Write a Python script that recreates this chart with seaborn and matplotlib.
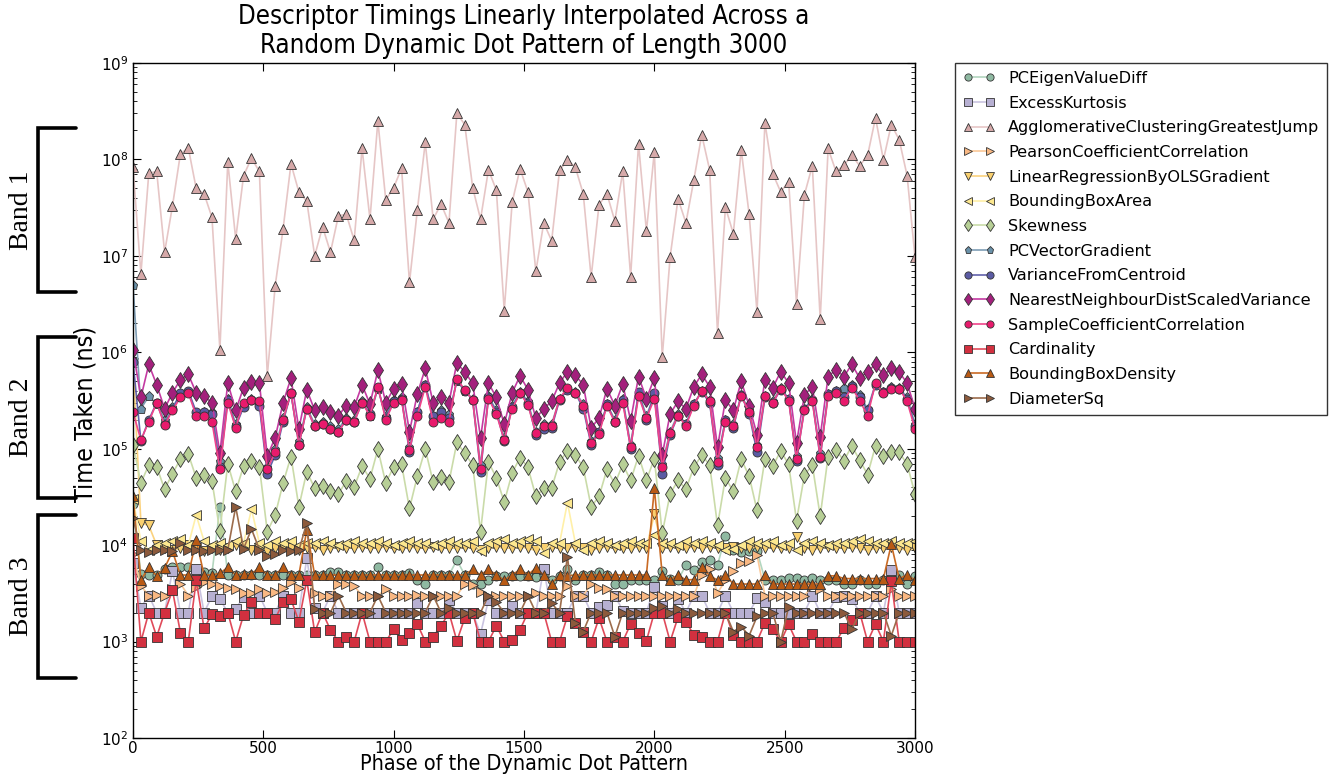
import numpy as np
import matplotlib
matplotlib.use("Agg")
import matplotlib.pyplot as plt
from matplotlib.lines import Line2D
import seaborn as sns

# Sample positions along the dot pattern (100 evenly spaced phases)
phase = np.linspace(0, 3000, 100)

pc_eigen_value_diff = [
    2.7e4, 5000, 4900, 4900, 5600, 5900, 5900, 5900, 5300, 5300,
    5100, 2.5e4, 4900, 4900, 4900, 4900, 4900, 4900, 4900, 4900,
    4900, 4900, 4900, 4900, 4900, 5300, 5300, 4900, 4900, 4900,
    4900, 5900, 4900, 4900, 4900, 5100, 4400, 4000, 4900, 4900,
    4900, 7000, 4900, 4000, 4000, 4350, 4800, 4800, 4800, 4800,
    4800, 4650, 4900, 4350, 4800, 5600, 4350, 4900, 4900, 5300,
    4900, 4000, 4000, 4350, 4350, 4350, 4350, 5400, 4500, 4350,
    6200, 5500, 6700, 7000, 6200, 1.25e4, 9000, 8400, 8700, 8700,
    4400, 4350, 4350, 4600, 4600, 4350, 4600, 4350, 4350, 4350,
    4000, 4000, 4350, 4000, 4000, 4350, 4800, 4900, 4000, 4800]

excess_kurtosis = [
    6500, 2250, 3000, 2000, 2000, 5450, 2000, 2000, 5600, 2000,
    2950, 2770, 2000, 2180, 2900, 2000, 3000, 2000, 2000, 3000,
    2000, 2000, 7300, 2250, 2000, 3000, 2000, 2000, 2000, 2000,
    2000, 2000, 2000, 2000, 2000, 2000, 2540, 2000, 2000, 2000,
    2700, 2000, 2000, 2000, 1200, 2700, 2000, 2000, 2340, 2000,
    2000, 2000, 5700, 2000, 2000, 2000, 3000, 3000, 2000, 2300,
    2400, 3000, 2100, 2000, 2000, 2000, 3700, 2340, 2000, 2770,
    2000, 3000, 3000, 2000, 2000, 3000, 2000, 2000, 2000, 2800,
    2550, 2000, 2000, 2000, 2000, 2000, 3000, 2000, 2000, 2900,
    3000, 2770, 2000, 2000, 2950, 2000, 5500, 2000, 2000, 2000]

agglomerative_jump = [
    8.3e7, 6.5e6, 7.2e7, 7.5e7, 1.09e7, 3.3e7, 1.14e8, 1.32e8, 5.0e7, 4.4e7,
    2.5e7, 1.06e6, 9.4e7, 1.5e7, 6.8e7, 1.03e8, 7.5e7, 5.7e5, 4.9e6, 1.9e7,
    9.0e7, 4.6e7, 3.7e7, 1.0e7, 2.0e7, 1.09e7, 2.6e7, 2.7e7, 1.45e7, 1.3e8,
    2.4e7, 2.5e8, 3.8e7, 5.1e7, 8.1e7, 5.3e6, 3.0e7, 1.5e8, 2.4e7, 3.45e7,
    2.2e7, 3.0e8, 2.3e8, 5.1e7, 2.4e7, 7.8e7, 4.8e7, 2.7e6, 3.6e7, 8.0e7,
    4.6e7, 6.9e6, 2.2e7, 1.43e7, 7.7e7, 9.9e7, 8.3e7, 4.4e7, 6.0e6, 3.4e7,
    4.4e7, 2.3e7, 7.5e7, 6.1e6, 1.45e8, 1.8e7, 1.2e8, 8.9e5, 9.8e6, 3.9e7,
    2.2e7, 6.1e7, 1.8e8, 7.8e7, 1.6e6, 3.2e7, 1.7e7, 1.26e8, 2.7e7, 2.6e6,
    2.4e8, 7.1e7, 4.6e7, 5.9e7, 3.2e6, 4.3e7, 8.6e7, 2.2e6, 1.3e8, 7.5e7,
    8.7e7, 1.1e8, 8.6e7, 1.1e8, 2.7e8, 9.9e7, 2.3e8, 1.6e8, 6.8e7, 9.7e6]

pearson_correlation = [
    8000, 3780, 3000, 3070, 3000, 3470, 4000, 3000, 3700, 4100,
    4000, 3780, 3600, 3470, 3200, 3200, 3470, 3200, 3300, 3600,
    4100, 3600, 4500, 3200, 3000, 2950, 4000, 3950, 3780, 3000,
    3000, 3000, 3470, 3000, 3000, 3000, 3070, 3000, 3000, 3000,
    3000, 3000, 3950, 3850, 3300, 3000, 3000, 3000, 3000, 3000,
    3000, 3200, 3000, 3000, 3000, 3780, 3000, 3000, 3950, 3600,
    3470, 3000, 3000, 3000, 3000, 3000, 3000, 3000, 3000, 3000,
    3000, 3000, 4900, 5600, 3200, 4300, 5400, 6600, 6800, 7900,
    3000, 3000, 3000, 3000, 3000, 3000, 3780, 3470, 3000, 3000,
    3000, 3000, 3000, 3000, 3000, 3000, 3470, 3000, 3000, 3000]

linear_regression_gradient = [
    7.7e5, 1.7e4, 1.6e4, 1.0e4, 9300, 8800, 9300, 1.0e4, 9300, 8600,
    9300, 8800, 9300, 1.0e4, 9600, 8800, 9300, 8600, 9300, 9600,
    9300, 8800, 9300, 9600, 8800, 9300, 9600, 9300, 9300, 9600,
    9300, 9300, 9600, 9300, 9300, 9600, 9300, 9300, 9600, 9300,
    9300, 9300, 9600, 9300, 9000, 9300, 9600, 9300, 9300, 9600,
    9300, 8800, 9300, 9600, 9300, 9300, 9600, 9300, 8800, 9300,
    9600, 9300, 9300, 9300, 9600, 9300, 2.1e4, 9300, 9600, 9300,
    9300, 9600, 9300, 9600, 9300, 9300, 9600, 9300, 9300, 9600,
    9300, 9600, 9300, 9300, 1.22e4, 9300, 9000, 9300, 9600, 9300,
    9300, 9600, 9300, 8800, 9300, 9300, 9600, 9300, 8800, 9300]

bounding_box_area = [
    3.0e4, 1.1e4, 8900, 1.0e4, 1.05e4, 1.1e4, 1.15e4, 1.0e4, 2.05e4, 1.1e4,
    1.0e4, 1.05e4, 1.0e4, 1.1e4, 1.05e4, 2.35e4, 1.05e4, 1.0e4, 1.1e4, 1.05e4,
    1.1e4, 1.0e4, 1.05e4, 1.05e4, 1.1e4, 1.05e4, 1.0e4, 1.05e4, 1.1e4, 1.05e4,
    1.05e4, 1.1e4, 1.05e4, 1.0e4, 1.05e4, 1.1e4, 1.05e4, 1.05e4, 1.0e4, 1.05e4,
    1.1e4, 1.05e4, 1.05e4, 1.1e4, 8700, 1.05e4, 1.1e4, 1.15e4, 1.05e4, 1.1e4,
    1.15e4, 1.1e4, 8300, 1.05e4, 1.05e4, 2.76e4, 1.05e4, 9000, 1.05e4, 1.1e4,
    1.05e4, 1.0e4, 1.05e4, 1.1e4, 1.05e4, 1.05e4, 1.27e4, 1.05e4, 1.05e4, 1.0e4,
    1.1e4, 1.05e4, 1.1e4, 1.05e4, 1.0e4, 8900, 9200, 1.0e4, 1.1e4, 1.05e4,
    1.05e4, 1.1e4, 1.0e4, 1.05e4, 9000, 1.05e4, 1.1e4, 1.05e4, 1.0e4, 1.05e4,
    1.05e4, 1.1e4, 1.15e4, 1.1e4, 1.05e4, 1.05e4, 1.1e4, 1.05e4, 1.05e4, 1.1e4]

skewness = [
    1.1e5, 4.4e4, 6.8e4, 6.5e4, 3.8e4, 5.5e4, 7.8e4, 8.8e4, 5.0e4, 5.3e4,
    4.6e4, 1.4e4, 7.0e4, 3.6e4, 6.6e4, 7.5e4, 6.5e4, 1.38e4, 2.05e4, 4.4e4,
    8.3e4, 2.5e4, 5.8e4, 3.9e4, 4.1e4, 3.6e4, 3.4e4, 4.6e4, 4.0e4, 6.6e4,
    4.9e4, 9.9e4, 4.4e4, 6.5e4, 6.9e4, 2.4e4, 5.2e4, 9.9e4, 4.5e4, 5.1e4,
    4.5e4, 1.16e5, 9.0e4, 6.8e4, 1.38e4, 7.3e4, 5.0e4, 2.8e4, 5.6e4, 8.1e4,
    6.4e4, 3.2e4, 3.9e4, 3.9e4, 7.3e4, 9.5e4, 8.6e4, 6.4e4, 2.5e4, 3.2e4,
    6.1e4, 4.3e4, 6.9e4, 4.7e4, 8.4e4, 4.7e4, 7.9e4, 1.33e4, 3.4e4, 4.7e4,
    3.8e4, 6.4e4, 8.6e4, 6.8e4, 1.6e4, 5.0e4, 3.6e4, 7.8e4, 5.2e4, 2.3e4,
    7.8e4, 6.6e4, 9.5e4, 6.9e4, 1.8e4, 5.3e4, 6.8e4, 2.0e4, 8.3e4, 9.7e4,
    7.5e4, 1.07e5, 7.6e4, 5.4e4, 1.07e5, 8.4e4, 9.2e4, 9.2e4, 6.9e4, 3.4e4]

pc_vector_gradient = [
    5.0e6, 2.6e5, 3.5e5, 2.9e5, 2.0e5, 2.7e5, 3.5e5, 3.9e5, 2.3e5, 2.4e5,
    2.4e5, 7.5e4, 3.3e5, 1.8e5, 2.8e5, 3.3e5, 2.9e5, 6.5e4, 1.0e5, 2.1e5,
    3.7e5, 1.2e5, 2.7e5, 1.8e5, 1.9e5, 1.7e5, 1.6e5, 2.1e5, 2.0e5, 3.1e5,
    2.2e5, 4.2e5, 2.2e5, 3.2e5, 3.4e5, 1.05e5, 2.4e5, 4.6e5, 2.2e5, 2.5e5,
    2.3e5, 5.0e5, 4.0e5, 3.3e5, 6.8e4, 3.5e5, 2.5e5, 1.3e5, 2.8e5, 3.9e5,
    3.1e5, 1.5e5, 1.8e5, 1.8e5, 3.3e5, 4.2e5, 3.9e5, 2.9e5, 1.2e5, 1.5e5,
    2.9e5, 2.0e5, 3.3e5, 1.1e5, 3.8e5, 2.2e5, 3.6e5, 7.0e4, 1.5e5, 2.3e5,
    1.8e5, 2.9e5, 4.0e5, 3.2e5, 8.0e4, 2.0e5, 1.8e5, 3.6e5, 2.5e5, 1.1e5,
    3.5e5, 3.1e5, 4.3e5, 3.3e5, 8.5e4, 2.6e5, 3.3e5, 9.0e4, 3.7e5, 4.0e5,
    4.3e5, 4.6e5, 3.6e5, 2.6e5, 4.7e5, 3.9e5, 4.4e5, 4.3e5, 3.4e5, 1.8e5]

variance_from_centroid = [
    8.0e5, 1.2e5, 2.0e5, 3.0e5, 1.8e5, 2.6e5, 3.8e5, 4.0e5, 2.4e5, 2.4e5,
    2.3e5, 6.4e4, 3.2e5, 1.7e5, 2.7e5, 3.2e5, 2.8e5, 5.5e4, 8.6e4, 1.9e5,
    3.8e5, 1.1e5, 2.6e5, 1.7e5, 1.8e5, 1.6e5, 1.5e5, 2.0e5, 1.9e5, 3.0e5,
    2.3e5, 4.3e5, 2.1e5, 3.1e5, 3.3e5, 9.2e4, 2.4e5, 4.6e5, 2.2e5, 2.4e5,
    2.1e5, 5.2e5, 4.0e5, 3.2e5, 5.8e4, 3.4e5, 2.4e5, 1.2e5, 2.7e5, 3.8e5,
    3.0e5, 1.4e5, 1.6e5, 1.65e5, 3.2e5, 4.1e5, 3.8e5, 2.6e5, 1.1e5, 1.5e5,
    2.9e5, 1.9e5, 3.2e5, 1.0e5, 3.9e5, 2.0e5, 3.8e5, 5.5e4, 1.4e5, 2.2e5,
    1.8e5, 2.9e5, 3.9e5, 3.0e5, 6.8e4, 2.0e5, 1.65e5, 3.6e5, 2.3e5, 9.2e4,
    3.4e5, 3.0e5, 4.1e5, 3.3e5, 7.5e4, 2.6e5, 3.2e5, 8.0e4, 3.7e5, 4.0e5,
    3.4e5, 4.5e5, 3.4e5, 2.5e5, 4.6e5, 3.9e5, 4.3e5, 4.2e5, 3.3e5, 1.7e5]

nearest_neighbour_variance = [
    1.05e6, 3.4e5, 7.5e5, 4.6e5, 2.6e5, 3.8e5, 5.2e5, 5.9e5, 3.8e5, 3.5e5,
    3.0e5, 9.0e4, 4.8e5, 2.5e5, 4.3e5, 4.9e5, 4.8e5, 8.4e4, 1.3e5, 3.0e5,
    5.4e5, 1.6e5, 4.1e5, 2.5e5, 2.7e5, 2.4e5, 2.2e5, 2.8e5, 2.7e5, 4.6e5,
    2.9e5, 6.5e5, 3.0e5, 4.2e5, 4.7e5, 1.5e5, 3.7e5, 6.8e5, 3.0e5, 3.4e5,
    3.0e5, 7.8e5, 6.2e5, 4.8e5, 1.3e5, 4.8e5, 3.4e5, 1.8e5, 3.8e5, 5.7e5,
    4.1e5, 2.07e5, 2.6e5, 3.1e5, 4.8e5, 6.3e5, 5.8e5, 4.6e5, 1.65e5, 2.07e5,
    4.2e5, 2.8e5, 4.7e5, 1.95e5, 5.6e5, 3.3e5, 5.4e5, 8.6e4, 2.3e5, 3.1e5,
    2.6e5, 4.4e5, 5.9e5, 4.4e5, 1.03e5, 3.2e5, 2.5e5, 5.0e5, 2.8e5, 1.4e5,
    5.2e5, 4.3e5, 6.3e5, 4.8e5, 1.14e5, 3.6e5, 4.4e5, 1.33e5, 5.6e5, 6.6e5,
    5.6e5, 7.5e5, 5.4e5, 6.3e5, 7.5e5, 5.8e5, 6.8e5, 6.2e5, 4.8e5, 2.6e5]

sample_correlation = [
    2.4e5, 1.23e5, 1.9e5, 3.0e5, 1.76e5, 2.5e5, 3.4e5, 3.8e5, 2.2e5, 2.2e5,
    1.9e5, 6.1e4, 3.0e5, 1.65e5, 3.0e5, 3.2e5, 3.1e5, 6.1e4, 9.3e4, 2.0e5,
    3.8e5, 1.1e5, 2.6e5, 1.7e5, 1.8e5, 1.6e5, 1.5e5, 2.0e5, 1.9e5, 3.0e5,
    2.2e5, 4.4e5, 2.0e5, 3.0e5, 3.2e5, 9.7e4, 2.2e5, 4.4e5, 1.9e5, 2.1e5,
    1.9e5, 5.3e5, 4.1e5, 3.2e5, 6.2e4, 3.3e5, 2.3e5, 1.23e5, 2.6e5, 3.75e5,
    2.85e5, 1.45e5, 1.7e5, 1.73e5, 3.3e5, 4.3e5, 3.8e5, 2.8e5, 1.14e5, 1.42e5,
    2.8e5, 1.88e5, 3.0e5, 1.03e5, 3.5e5, 2.07e5, 3.3e5, 6.5e4, 1.45e5, 2.2e5,
    1.73e5, 2.8e5, 4.0e5, 3.1e5, 7.3e4, 1.9e5, 1.73e5, 3.5e5, 2.4e5, 1.05e5,
    3.5e5, 3.0e5, 4.2e5, 3.15e5, 7.9e4, 2.5e5, 3.1e5, 8.3e4, 3.5e5, 3.8e5,
    3.15e5, 4.3e5, 3.15e5, 2.2e5, 4.8e5, 3.8e5, 4.2e5, 4.2e5, 3.1e5, 1.6e5]

cardinality = [
    1.2e4, 1000, 2000, 1125, 2000, 3400, 1240, 1000, 4300, 1370,
    1920, 1820, 2000, 1000, 1890, 2550, 2000, 2000, 1720, 2550,
    2750, 1610, 4350, 1250, 2000, 1320, 1000, 1110, 1000, 2000,
    1000, 1000, 1000, 1340, 1040, 1240, 1520, 1000, 1125, 1450,
    2000, 1015, 1750, 2000, 1000, 1000, 1460, 1000, 1040, 1330,
    2000, 2000, 2000, 1000, 1000, 1840, 1570, 1270, 1000, 1750,
    1000, 1125, 1000, 1520, 1240, 1020, 2000, 2000, 1000, 1790,
    1610, 1170, 1110, 1000, 1000, 2000, 1160, 1000, 1000, 1000,
    1570, 1340, 1000, 1510, 1000, 1000, 1200, 1000, 1000, 1000,
    1370, 1680, 2000, 1000, 1520, 1000, 4200, 1000, 1000, 1000]

bounding_box_density = [
    3.2e4, 4350, 5900, 4800, 5800, 8600, 4900, 4900, 1.13e4, 4900,
    4900, 5100, 5900, 4900, 5000, 5000, 5900, 4900, 4900, 5900,
    4900, 4900, 1.44e4, 4900, 4900, 4900, 4900, 4900, 4900, 4900,
    4900, 4900, 4900, 4900, 4900, 4900, 4900, 4900, 4900, 4900,
    4900, 4900, 4900, 5600, 4900, 5600, 4900, 4350, 4900, 5600,
    4900, 5800, 4900, 4000, 4900, 4800, 4900, 4900, 4900, 4900,
    4900, 4900, 4900, 4900, 4900, 4900, 3.9e4, 4900, 4350, 4900,
    4350, 4400, 6000, 4800, 4350, 4900, 3950, 3950, 3950, 3950,
    4900, 3950, 3950, 3950, 3950, 3950, 3950, 3950, 4800, 4800,
    4500, 4500, 4500, 4500, 4500, 4500, 1.02e4, 4500, 4900, 4350]

diameter_sq = [
    1.9e4, 8800, 8500, 8800, 8900, 8700, 1.06e4, 8800, 8800, 8600,
    9000, 8900, 8900, 2.5e4, 9200, 1.47e4, 9000, 7700, 8000, 8800,
    8700, 8800, 1.7e4, 2200, 2000, 2000, 3000, 2000, 2000, 2000,
    2000, 3000, 2000, 2000, 2000, 2000, 2000, 2000, 3000, 2000,
    2250, 2000, 2000, 2000, 2000, 3000, 2550, 2000, 2000, 2000,
    3000, 2000, 2000, 2500, 2000, 7600, 1570, 1270, 2000, 2000,
    2000, 1125, 2000, 2000, 2000, 2000, 2250, 2340, 2000, 2200,
    2000, 2000, 2000, 2000, 2000, 2000, 1270, 1430, 1150, 1820,
    2000, 2000, 1000, 2300, 2000, 2000, 2000, 2000, 2000, 2000,
    2000, 1340, 2000, 2000, 2000, 2000, 1150, 2000, 2000, 2000]

series_names = [
    "PCEigenValueDiff", "ExcessKurtosis", "AgglomerativeClusteringGreatestJump",
    "PearsonCoefficientCorrelation", "LinearRegressionByOLSGradient",
    "BoundingBoxArea", "Skewness", "PCVectorGradient", "VarianceFromCentroid",
    "NearestNeighbourDistScaledVariance", "SampleCoefficientCorrelation",
    "Cardinality", "BoundingBoxDensity", "DiameterSq",
]
series_values = [
    pc_eigen_value_diff, excess_kurtosis, agglomerative_jump,
    pearson_correlation, linear_regression_gradient, bounding_box_area,
    skewness, pc_vector_gradient, variance_from_centroid,
    nearest_neighbour_variance, sample_correlation, cardinality,
    bounding_box_density, diameter_sq,
]
# (marker, marker face colour, line colour)
series_styles = [
    ("o", "#8fb9a2", "#b3d6bf"),
    ("s", "#b7b0d2", "#c9c3e0"),
    ("^", "#d6a9a9", "#e6c6c6"),
    (">", "#f9b883", "#fbc898"),
    ("v", "#f9d06f", "#fbd27e"),
    ("<", "#fde88f", "#fff0a8"),
    ("d", "#b7cf96", "#cadba9"),
    ("p", "#6a91a9", "#7e9db5"),
    ("o", "#5b5ba3", "#6262ab"),
    ("d", "#a3207c", "#c43aa2"),
    ("o", "#e81a6c", "#f0448a"),
    ("s", "#d2303f", "#e04a5a"),
    ("^", "#b95a14", "#c96a24"),
    (">", "#8c5a3c", "#9c6c4c"),
]

sns.set_theme(style="ticks")
plt.rcParams["font.family"] = ["DejaVu Sans"]
plt.rcParams["mathtext.default"] = "regular"
plt.rcParams.update({"text.color": "black", "axes.labelcolor": "black",
                     "xtick.color": "black", "ytick.color": "black"})

W, H = 1339, 778
fig = plt.figure(figsize=(W / 100, H / 100), dpi=100)
ax = fig.add_axes([133 / W, 1 - 738 / H, 782 / W, 675 / H])

for name, vals, (mk, face, line) in zip(series_names, series_values, series_styles):
    sns.lineplot(x=phase, y=vals, ax=ax, color=line, linewidth=1.2,
                 marker=mk, markersize=6.5 if mk != "d" else 8,
                 markerfacecolor=face, markeredgecolor="#333333",
                 markeredgewidth=0.6, label=name, legend=False)

ax.set_yscale("log")
ax.set_xlim(0, 3000)
ax.set_ylim(1e2, 1e9)
ax.set_xticks([0, 500, 1000, 1500, 2000, 2500, 3000])
ax.tick_params(axis="both", which="both", direction="in", top=True, right=True,
               labelsize=11, color="black", labelcolor="black")
ax.tick_params(which="major", length=6, width=0.8)
ax.tick_params(which="minor", length=3, width=0.6)
ax.tick_params(axis="x", which="both", pad=2)
for s in ax.spines.values():
    s.set_color("black")
    s.set_linewidth(1.0)

ax.set_xlabel("Phase of the Dynamic Dot Pattern", fontsize=15.5,
              fontstretch="condensed", va="top")
ax.xaxis.set_label_coords(0.5, (738 - 754) / 675)
ax.set_ylabel("Time Taken (ns)", fontsize=18, fontstretch="condensed")
ax.yaxis.set_label_coords((97 - 133) / 782, (738 - 414) / 675)
ax.set_title("Descriptor Timings Linearly Interpolated Across a\n"
             "Random Dynamic Dot Pattern of Length 3000",
             fontsize=18.5, pad=7, fontstretch="condensed", linespacing=1.17)

handles, labels = ax.get_legend_handles_labels()
leg = ax.legend(handles, labels, loc="upper left",
                bbox_to_anchor=(955 / W, 1 - 63 / H), bbox_transform=fig.transFigure,
                numpoints=2, fontsize=11.6, frameon=True, fancybox=False,
                borderaxespad=0, markerscale=0.8, handlelength=2.0,
                labelspacing=0.6, borderpad=0.5)
leg.get_frame().set_edgecolor("black")
leg.get_frame().set_linewidth(1.0)

# Bracket annotations grouping the timing bands
bands = [("Band 1", 128, 292), ("Band 2", 337, 498), ("Band 3", 515, 678)]
for label, y0, y1 in bands:
    xs = [76 / W, 38 / W, 38 / W, 76 / W]
    ys = [1 - y0 / H, 1 - y0 / H, 1 - y1 / H, 1 - y1 / H]
    fig.add_artist(Line2D(xs, ys, transform=fig.transFigure, color="black",
                          linewidth=2.6, solid_joinstyle="miter"))
    fig.text(22 / W, 1 - (y0 + y1) / 2 / H, label, rotation=90,
             ha="center", va="center", fontsize=20,
             family=["Liberation Serif", "DejaVu Serif"])

fig.savefig("out.png", dpi=100)
